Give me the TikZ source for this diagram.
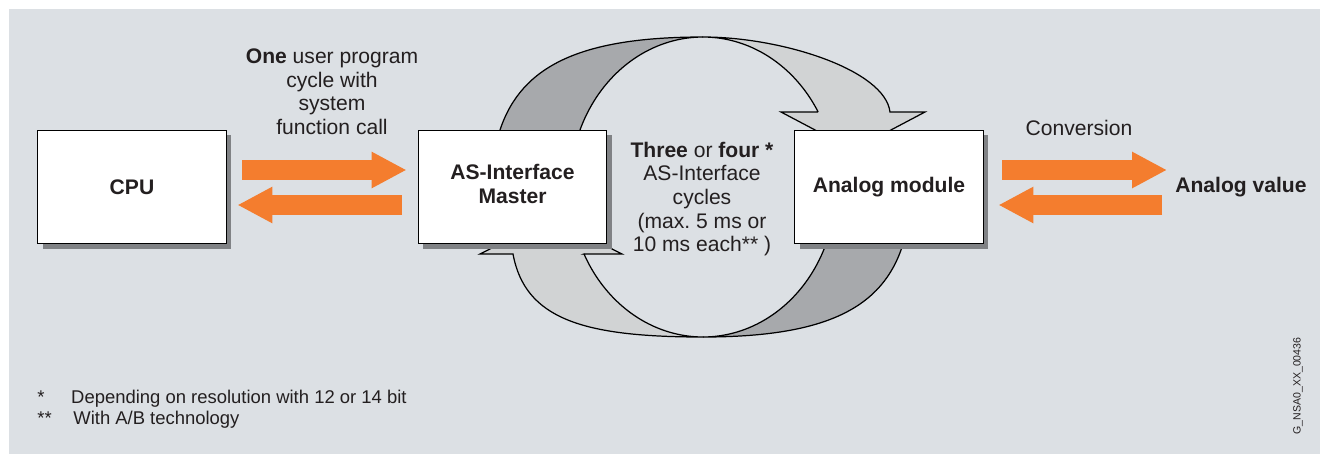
\documentclass[tikz,border=0pt]{standalone}
\usepackage{fontspec}
\setmainfont{Liberation Sans}
\usetikzlibrary{arrows.meta,calc,shadows}
\definecolor{bgc}{RGB}{220,224,228}
\definecolor{darkc}{RGB}{167,169,172}
\definecolor{lightc}{RGB}{209,211,212}
\definecolor{shadc}{RGB}{128,130,133}
\definecolor{orangec}{RGB}{244,125,46}
\definecolor{textc}{RGB}{35,31,32}
\frenchspacing
\begin{document}
\begin{tikzpicture}[x=0.02cm,y=-0.02cm,
  box/.style={draw=black, line width=0.6pt, fill=white,
    minimum width=107.5pt, minimum height=64.6pt, inner sep=0pt,
    align=center, font=\fontsize{12}{13.5}\selectfont\bfseries, text=textc,
    general shadow={fill=shadc, draw=none, shadow xshift=2.85pt, shadow yshift=-2.85pt}},
  lbl/.style={inner sep=0pt, text=textc, font=\fontsize{12}{13.5}\selectfont},
  darkpiece/.style={fill=darkc, draw=black, line width=0.7pt},
  lightpiece/.style={fill=lightc, draw=black, line width=0.7pt},
  fatarrow/.style={draw=orangec, line width=11.4pt,
    -{Triangle[length=19.9pt,width=19.35pt]}}]
\useasboundingbox (0,0) rectangle (1320,454);
\fill[bgc] (9,9) rectangle (1320,454);

% upper cycle arrow
\filldraw[darkpiece] (499,145) -- (500,130) .. controls (521.5,65) and (582,37) .. (703,37)
  -- plot[domain=270:198, samples=40] ({703+133*cos(\x)},{187+150*sin(\x)}) -- cycle;
\filldraw[lightpiece] (703,37) .. controls (782,37) and (885,70) .. (890,112)
  -- (925,112) -- (853,150) -- (781,112) -- (818.2,112)
  -- plot[domain=330:270, samples=40] ({703+133*cos(\x)},{187+150*sin(\x)}) -- cycle;
% lower cycle arrow
\filldraw[darkpiece] (904,232) -- (903,244) .. controls (883,309) and (824,337) .. (703,337)
  -- plot[domain=90:18, samples=40] ({703+133*cos(\x)},{187+150*sin(\x)}) -- cycle;
\filldraw[lightpiece] (703,337) .. controls (583,337) and (525,319) .. (513,254)
  -- (480,254) -- (551,218) -- (622,254) -- (584,254)
  -- plot[domain=153.47:90, samples=40] ({703+133*cos(\x)},{187+150*sin(\x)}) -- cycle;

% boxes
\node[box] (cpu) at (132,187) {CPU};
\node[box] (asi) at (512.5,187) {\strut AS-Interface\\\strut Master};
\node[box] (ana) at (889,187) {Analog module};

% labels
\node[lbl, align=center] (prog) at (332,94.2)
  {\strut\textbf{One} user program\\\strut cycle with\\\strut system\\\strut function call};
\node[lbl, align=center] (cyc) at (702,199.8)
  {\strut\textbf{Three} or \textbf{four *}\\\strut AS-Interface\\\strut cycles\\\strut(max.\ 5 ms or\\\strut 10 ms each** )};
\node[lbl, anchor=base] (conv) at (1079,135) {Conversion};
\node[lbl, anchor=west, font=\fontsize{12}{13.5}\selectfont\bfseries] (val) at (1175,187) {Analog value};

% orange connectors
\draw[fatarrow] ($(cpu.east)+(15.5,-17)$) -- ($(asi.west)+(-11,-17)$);
\draw[fatarrow] ($(asi.west)+(-16,18)$) -- ($(cpu.east)+(10.5,18)$);
\draw[fatarrow] ($(ana.east)+(18.5,-17)$) -- ($(val.west)+(-8,-17)$);
\draw[fatarrow] ($(val.west)+(-13,18)$) -- ($(ana.east)+(14.5,18)$);

% footnotes
\node[lbl, anchor=west, align=left, font=\fontsize{10.5}{11.4}\selectfont] (notes) at (37,410)
  {\strut\makebox[19.3pt][l]{*}Depending on resolution with 12 or 14 bit\\
   \strut\makebox[20.5pt][l]{**}With A/B technology};
\node[lbl, rotate=90, font=\fontsize{6}{7}\selectfont] (code) at (1298,386) {G\_NSA0\_XX\_00436};
\end{tikzpicture}
\end{document}
